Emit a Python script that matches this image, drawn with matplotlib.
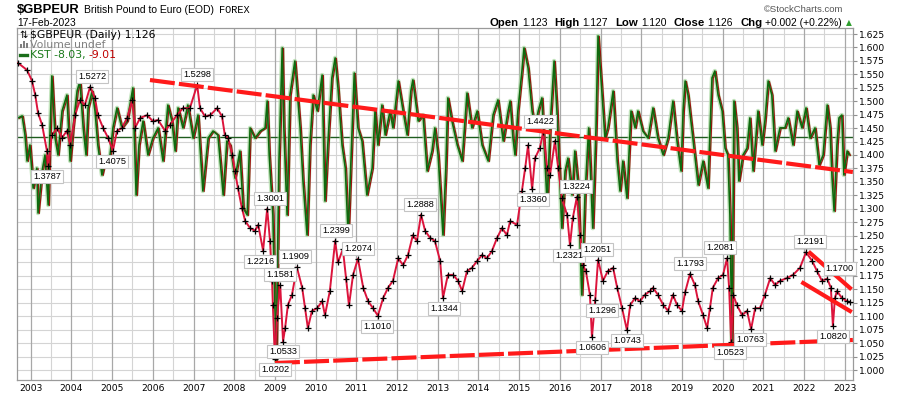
import matplotlib
matplotlib.use("Agg")
import matplotlib.pyplot as plt
from matplotlib.transforms import Affine2D, offset_copy
from matplotlib.patches import Rectangle

# ---- price series ($GBPEUR, sampled from the chart) ----
price_dates = [2002.69, 2002.91, 2003.03, 2003.11, 2003.18, 2003.28, 2003.40, 2003.43, 2003.52, 2003.65,
               2003.77, 2003.89, 2003.97, 2004.09, 2004.21, 2004.33, 2004.46, 2004.58, 2004.65, 2004.78,
               2004.90, 2005.02, 2005.12, 2005.24, 2005.37, 2005.49, 2005.56, 2005.69, 2005.86, 2006.00,
               2006.13, 2006.30, 2006.42, 2006.59, 2006.74, 2006.91, 2007.09, 2007.16, 2007.28, 2007.41,
               2007.58, 2007.70, 2007.77, 2007.85, 2007.95, 2008.02, 2008.09, 2008.19, 2008.27, 2008.39,
               2008.51, 2008.59, 2008.71, 2008.81, 2008.88, 2008.93, 2008.95, 2009.00, 2009.05, 2009.13,
               2009.20, 2009.25, 2009.32, 2009.42, 2009.54, 2009.67, 2009.74, 2009.81, 2009.91, 2010.04,
               2010.16, 2010.23, 2010.35, 2010.48, 2010.55, 2010.67, 2010.75, 2010.82, 2010.92, 2011.04,
               2011.17, 2011.29, 2011.41, 2011.53, 2011.66, 2011.78, 2011.90, 2012.03, 2012.15, 2012.27,
               2012.39, 2012.49, 2012.59, 2012.69, 2012.81, 2012.93, 2013.06, 2013.13, 2013.25, 2013.38,
               2013.50, 2013.60, 2013.72, 2013.84, 2013.97, 2014.09, 2014.21, 2014.33, 2014.46, 2014.58,
               2014.70, 2014.78, 2014.95, 2015.07, 2015.15, 2015.22, 2015.32, 2015.39, 2015.51, 2015.59,
               2015.69, 2015.76, 2015.88, 2015.96, 2016.05, 2016.18, 2016.25, 2016.32, 2016.42, 2016.50,
               2016.57, 2016.64, 2016.74, 2016.79, 2016.87, 2016.94, 2017.06, 2017.18, 2017.31, 2017.41,
               2017.53, 2017.65, 2017.73, 2017.85, 2017.97, 2018.09, 2018.22, 2018.29, 2018.41, 2018.54,
               2018.66, 2018.78, 2018.88, 2019.00, 2019.08, 2019.20, 2019.32, 2019.40, 2019.52, 2019.62,
               2019.69, 2019.76, 2019.89, 2020.01, 2020.11, 2020.16, 2020.21, 2020.26, 2020.35, 2020.48,
               2020.60, 2020.70, 2020.80, 2020.92, 2021.04, 2021.17, 2021.29, 2021.41, 2021.58, 2021.73,
               2021.90, 2022.05, 2022.20, 2022.32, 2022.44, 2022.57, 2022.66, 2022.71, 2022.76, 2022.81,
               2022.93, 2023.06, 2023.13]
price_vals = [1.571, 1.558, 1.538, 1.512, 1.478, 1.456, 1.407, 1.379, 1.437, 1.450,
              1.432, 1.445, 1.418, 1.474, 1.502, 1.493, 1.527, 1.506, 1.474, 1.450,
              1.432, 1.408, 1.445, 1.450, 1.469, 1.502, 1.450, 1.469, 1.474, 1.463,
              1.465, 1.445, 1.456, 1.474, 1.487, 1.487, 1.530, 1.487, 1.472, 1.474,
              1.487, 1.472, 1.437, 1.432, 1.400, 1.370, 1.339, 1.301, 1.277, 1.264,
              1.259, 1.270, 1.222, 1.300, 1.240, 1.166, 1.121, 1.020, 1.097, 1.158,
              1.053, 1.078, 1.121, 1.140, 1.191, 1.153, 1.115, 1.078, 1.110, 1.115,
              1.128, 1.102, 1.147, 1.240, 1.200, 1.225, 1.170, 1.120, 1.177, 1.207,
              1.153, 1.128, 1.115, 1.101, 1.134, 1.153, 1.166, 1.208, 1.195, 1.214,
              1.251, 1.240, 1.289, 1.259, 1.246, 1.240, 1.203, 1.134, 1.177, 1.177,
              1.166, 1.147, 1.184, 1.190, 1.203, 1.214, 1.208, 1.221, 1.246, 1.264,
              1.251, 1.277, 1.270, 1.333, 1.376, 1.418, 1.336, 1.394, 1.413, 1.442,
              1.376, 1.363, 1.426, 1.376, 1.320, 1.288, 1.232, 1.283, 1.322, 1.251,
              1.195, 1.184, 1.140, 1.061, 1.130, 1.205, 1.166, 1.184, 1.190, 1.153,
              1.115, 1.074, 1.121, 1.134, 1.128, 1.140, 1.147, 1.153, 1.140, 1.121,
              1.110, 1.140, 1.121, 1.110, 1.145, 1.179, 1.158, 1.128, 1.102, 1.078,
              1.115, 1.153, 1.171, 1.177, 1.208, 1.153, 1.052, 1.140, 1.121, 1.102,
              1.110, 1.076, 1.115, 1.115, 1.140, 1.171, 1.158, 1.166, 1.171, 1.177,
              1.190, 1.219, 1.203, 1.184, 1.166, 1.170, 1.153, 1.082, 1.134, 1.147,
              1.134, 1.128, 1.126]

# ---- KST overlay (own scale, zero line drawn across the chart) ----
kst_dates = [2002.69, 2002.79, 2002.86, 2002.91, 2002.98, 2003.06, 2003.15, 2003.18, 2003.28, 2003.35,
             2003.43, 2003.47, 2003.52, 2003.60, 2003.67, 2003.77, 2003.89, 2003.97, 2004.04, 2004.14,
             2004.21, 2004.29, 2004.36, 2004.41, 2004.51, 2004.58, 2004.65, 2004.75, 2004.83, 2004.95,
             2005.02, 2005.12, 2005.24, 2005.37, 2005.51, 2005.59, 2005.66, 2005.76, 2005.88, 2006.00,
             2006.13, 2006.25, 2006.37, 2006.47, 2006.55, 2006.62, 2006.74, 2006.86, 2006.99, 2007.11,
             2007.23, 2007.36, 2007.48, 2007.60, 2007.73, 2007.82, 2007.90, 2008.02, 2008.14, 2008.22,
             2008.32, 2008.39, 2008.51, 2008.64, 2008.76, 2008.81, 2008.86, 2008.95, 2009.03, 2009.10,
             2009.18, 2009.22, 2009.30, 2009.37, 2009.49, 2009.62, 2009.69, 2009.79, 2009.86, 2009.94,
             2010.04, 2010.16, 2010.23, 2010.30, 2010.40, 2010.48, 2010.55, 2010.65, 2010.73, 2010.80,
             2010.90, 2010.95, 2011.04, 2011.14, 2011.26, 2011.39, 2011.46, 2011.53, 2011.63, 2011.71,
             2011.83, 2011.90, 2012.03, 2012.15, 2012.25, 2012.34, 2012.39, 2012.52, 2012.64, 2012.74,
             2012.86, 2012.93, 2013.01, 2013.13, 2013.20, 2013.25, 2013.35, 2013.48, 2013.60, 2013.72,
             2013.84, 2013.97, 2014.09, 2014.24, 2014.36, 2014.48, 2014.61, 2014.73, 2014.78, 2014.85,
             2014.90, 2014.97, 2015.07, 2015.12, 2015.22, 2015.32, 2015.39, 2015.47, 2015.56, 2015.69,
             2015.76, 2015.86, 2015.93, 2016.05, 2016.13, 2016.20, 2016.30, 2016.37, 2016.45, 2016.54,
             2016.62, 2016.71, 2016.81, 2016.89, 2016.94, 2017.04, 2017.11, 2017.18, 2017.31, 2017.41,
             2017.48, 2017.55, 2017.65, 2017.75, 2017.85, 2017.92, 2018.04, 2018.17, 2018.29, 2018.41,
             2018.54, 2018.66, 2018.78, 2018.88, 2018.98, 2019.03, 2019.08, 2019.15, 2019.27, 2019.40,
             2019.52, 2019.64, 2019.74, 2019.81, 2019.89, 2019.99, 2020.06, 2020.13, 2020.18, 2020.23,
             2020.28, 2020.35, 2020.40, 2020.50, 2020.60, 2020.67, 2020.75, 2020.87, 2020.97, 2021.04,
             2021.12, 2021.21, 2021.29, 2021.41, 2021.53, 2021.61, 2021.73, 2021.83, 2021.95, 2022.05,
             2022.15, 2022.27, 2022.37, 2022.47, 2022.57, 2022.64, 2022.69, 2022.74, 2022.81, 2022.86,
             2022.93, 2022.98, 2023.06, 2023.11]
kst_vals = [8.6, 9.5, 0.9, -10.8, -3.6, -23.0, -14.0, -34.2, -15.3, -8.1,
            -30.6, -0.5, 27.5, -0.5, -8.1, 11.7, 18.9, -10.8, 4.1, 20.7,
            25.2, 4.1, -8.1, 13.1, 20.7, 11.7, -3.6, -17.1, -10.8, -8.1,
            4.1, 13.1, 4.1, 7.2, 22.1, -26.1, -3.6, 7.2, -8.1, -0.5,
            4.1, -10.8, 14.4, 7.2, -6.3, 13.1, 4.1, 14.4, -0.5, 9.9,
            -24.3, -0.5, 2.7, 0.9, -26.1, -1.8, -3.6, -18.5, -6.3, -32.0,
            -35.1, 4.1, -0.5, 2.7, 4.1, 16.2, -8.1, -35.1, -100.8, -10.8,
            40.1, 4.1, -35.1, 18.9, 34.2, 4.1, -19.8, -44.1, -3.6, 18.9,
            11.7, 27.9, -28.8, -3.6, 26.6, 35.6, 22.1, -3.6, -14.0, -44.1,
            4.1, 28.8, 4.1, -1.8, -26.1, -14.0, 11.7, -3.6, 14.4, 0.9,
            11.7, 4.1, 25.2, 11.7, 0.9, 20.7, 25.7, 7.2, 9.9, -15.3,
            -6.3, 4.1, -8.1, -44.1, -14.0, 17.6, 7.2, -3.6, -10.8, 19.8,
            4.1, 11.7, -3.6, -10.8, 9.9, 16.7, -1.8, 11.7, 16.2, -0.5,
            -8.1, 11.7, 29.7, 40.1, 31.1, 11.7, 4.1, 11.7, 17.6, -30.6,
            4.1, 34.2, 11.7, -41.0, -15.3, -9.5, -26.1, -6.3, -21.6, -71.1,
            -26.1, 4.1, -41.0, 4.1, 45.5, 18.9, -0.5, 4.1, 20.7, -10.8,
            -24.3, -10.8, -27.5, 11.7, 4.1, 11.7, 2.7, -0.5, 13.1, -0.5,
            -8.1, -0.5, 16.2, -1.8, -15.3, 11.7, 25.2, 18.9, -0.5, -21.6,
            -10.8, -23.0, 26.6, 29.7, 18.9, 11.7, -5.0, -8.1, -35.1, -91.8,
            16.2, 4.1, -19.8, -8.1, -5.0, 8.6, -15.3, 11.7, -3.6, 7.2,
            25.2, 18.9, -6.3, 4.1, 4.1, 8.6, -3.6, 11.7, 4.1, 13.1,
            -0.5, 4.1, -12.6, -8.1, 14.4, 4.1, -18.5, -33.3, -3.6, 8.6,
            9.9, -17.1, -6.3, -8.03]

# ---- drawn trend lines ----
res_dates = [2005.93, 2023.20]
res_vals = [1.5394, 1.3683]
sup_dates = [2009.00, 2023.20]
sup_vals = [1.0130, 1.0558]
chan_hi_dates = [2022.15, 2023.13]
chan_hi_vals = [1.2176, 1.1525]
chan_lo_dates = [2021.98, 2023.13]
chan_lo_vals = [1.1618, 1.1097]

# ---- price annotations ----
label_dates = [2004.51, 2003.40, 2005.00, 2007.09, 2008.88, 2008.64, 2009.13, 2009.49, 2009.20, 2009.00,
               2010.50, 2011.04, 2011.51, 2012.57, 2013.16, 2015.35, 2015.51, 2016.40, 2016.23, 2016.92,
               2017.04, 2016.79, 2017.65, 2019.20, 2019.94, 2020.18, 2020.67, 2022.15, 2022.88, 2022.71]
label_vals = [1.5272, 1.3787, 1.4075, 1.5298, 1.3001, 1.2216, 1.1581, 1.1909, 1.0533, 1.0202,
              1.2399, 1.2074, 1.1010, 1.2888, 1.1344, 1.3360, 1.4422, 1.3224, 1.2321, 1.2051,
              1.1296, 1.0606, 1.0743, 1.1793, 1.2081, 1.0523, 1.0763, 1.2191, 1.1700, 1.0820]
label_side = ['a', 'b', 'b', 'a', 'a', 'b', 'a', 'a', 'b', 'b',
              'a', 'a', 'b', 'a', 'b', 'b', 'a', 'a', 'b', 'a',
              'b', 'b', 'b', 'a', 'a', 'b', 'b', 'a', 'a', 'b']

years = list(range(2003, 2024))
yticks = [1.000 + 0.025 * i for i in range(26)]

W, H = 900, 396
fig = plt.figure(figsize=(W / 100, H / 100), dpi=100)
ax = fig.add_axes([17 / W, 1 - 380 / H, 836 / W, 352 / H])
ax.set_xlim(2002.663, 2023.204)
ax.set_ylim(0.9814, 1.6362)

# grid
for y in yticks:
    ax.axhline(y, color='#d4d4d4', lw=0.8, zorder=0)
for yr in years:
    ax.axvline(yr, color='#a8a8a8', lw=0.9, zorder=0)
    ax.axvline(yr - 0.5, color='#d4d4d4', lw=0.8, zorder=0)
ax.axvline(2023.5, color='#d4d4d4', lw=0.8, zorder=0)

# KST in its own units, mapped onto the price panel
kst_tr = Affine2D().scale(1, 0.004134).translate(0, 1.4334) + ax.transData
ax.plot([2002.6, 2023.3], [0, 0], color='#1e5c1e', lw=1.0, transform=kst_tr, zorder=1)
ax.plot(kst_dates, kst_vals, color='#a8d8a0', lw=3.2, alpha=0.7, transform=kst_tr, zorder=1)
sig_tr = offset_copy(kst_tr, fig=fig, x=0.9, y=-0.3, units='points')
ax.plot(kst_dates, kst_vals, color='#a01010', lw=0.9, transform=sig_tr, zorder=1)
ax.plot(kst_dates, kst_vals, color='#0e6a0e', lw=1.2, transform=kst_tr, zorder=2)

# price
ax.plot(price_dates, price_vals, color='#dc143c', lw=1.4, zorder=3)
ax.plot(price_dates, price_vals, ls='none', marker='+', ms=4.5, mew=0.9, color='black', zorder=4)

# trend lines
ax.plot(res_dates, res_vals, color='#ff1a1a', lw=3, dashes=(6, 1), zorder=5)
ax.plot(sup_dates, sup_vals, color='#ff1a1a', lw=3, dashes=(6, 1), zorder=5)
ax.plot(chan_hi_dates, chan_hi_vals, color='#ff1a1a', lw=3, zorder=5)
ax.plot(chan_lo_dates, chan_lo_vals, color='#ff1a1a', lw=3, zorder=5)

for d, v, s in zip(label_dates, label_vals, label_side):
    off = 7.5 if s == 'a' else -7.5
    ax.annotate(f'{v:.4f}', xy=(d, v), xytext=(0, off), textcoords='offset points',
                ha='center', va='center', fontsize=6.6, family='Liberation Sans',
                bbox=dict(boxstyle='square,pad=0.22', fc='white', ec='#c4c4c4', lw=0.8),
                zorder=6)

# axes styling
ax.yaxis.tick_right()
ax.set_yticks(yticks)
ax.set_yticklabels([f'{y:.3f}' for y in yticks])
ax.set_xticks(years)
ax.set_xticklabels([str(y) for y in years])
ax.tick_params(axis='y', length=3, width=0.8, color='#909090', pad=1.5, labelsize=6.6)
ax.tick_params(axis='x', length=0, pad=3, labelsize=6.6)
for lab in ax.get_xticklabels() + ax.get_yticklabels():
    lab.set_family('DejaVu Sans')
for sp in ax.spines.values():
    sp.set_color('#9a9a9a')
    sp.set_linewidth(0.9)


def fx(x):
    return x / W


def fy(y):
    return 1 - y / H


renderer = fig.canvas.get_renderer()

# header, laid out left to right
t = fig.text(fx(17), fy(13), '$GBPEUR', fontsize=9.4, fontweight='bold', family='Liberation Sans', va='baseline')
x = 17 + t.get_window_extent(renderer).width + 4
t = fig.text(fx(x), fy(13), 'British Pound to Euro (EOD)', fontsize=7.5, family='Liberation Sans', va='baseline')
x += t.get_window_extent(renderer).width + 5
fig.text(fx(x), fy(13), 'FOREX', fontsize=7.4, family='Liberation Mono', va='baseline')
fig.text(fx(17), fy(26), '17-Feb-2023', fontsize=7.4, family='Liberation Sans', va='baseline')
fig.text(fx(843), fy(12), '\u00a9StockCharts.com', fontsize=6.8, family='Liberation Sans',
         color='#555555', ha='right', va='baseline')

pieces = [('Open', 'bold'), ('1.123', 'normal'), ('High', 'bold'), ('1.127', 'normal'),
          ('Low', 'bold'), ('1.120', 'normal'), ('Close', 'bold'), ('1.126', 'normal'),
          ('Chg', 'bold'), ('+0.002 (+0.22%)', 'normal')]
objs = []
for s, w in pieces:
    objs.append(fig.text(0, fy(26), s, fontsize=8.2 if w == 'bold' else 7.4, fontweight=w,
                         family='Liberation Sans', va='baseline'))
widths = [o.get_window_extent(renderer).width for o in objs]
gaps = [3, 7, 3, 7, 3, 7, 3, 7, 3, 0]
x = 842 - (sum(widths) + sum(gaps))
for o, wd, g in zip(objs, widths, gaps):
    o.set_x(fx(x))
    x += wd + g
fig.text(fx(846), fy(25), '\u25b2', fontsize=5.5, color='#2e9e2e', va='baseline', family='DejaVu Sans')

# legend inside panel
fig.text(fx(19), fy(38), '\u21c5', fontsize=7.2, family='DejaVu Sans', va='baseline')
fig.text(fx(30), fy(38), '$GBPEUR (Daily) 1.126', fontsize=7.8, family='DejaVu Sans', va='baseline')
for i, hgt in enumerate([4, 7, 5]):
    fig.add_artist(Rectangle((fx(20 + i * 3), fy(48)), 2 / W, hgt / H, transform=fig.transFigure,
                             color='#808080', lw=0))
fig.text(fx(30), fy(48), 'Volume undef', fontsize=7.8, family='DejaVu Sans', color='#808080', va='baseline')
fig.add_artist(plt.Line2D([fx(20), fx(27)], [fy(54.5), fy(54.5)], transform=fig.transFigure,
                          color='#1a6e1a', lw=2.4))
t1 = fig.text(fx(30), fy(58), 'KST -8.03,', fontsize=7.8, family='DejaVu Sans', color='#1a7a1a', va='baseline')
w1 = t1.get_window_extent(renderer).width
fig.text(fx(30 + w1 + 3), fy(58), '-9.01', fontsize=7.8, family='DejaVu Sans', color='#c00000', va='baseline')

fig.savefig('out.png', dpi=100, facecolor='white')
